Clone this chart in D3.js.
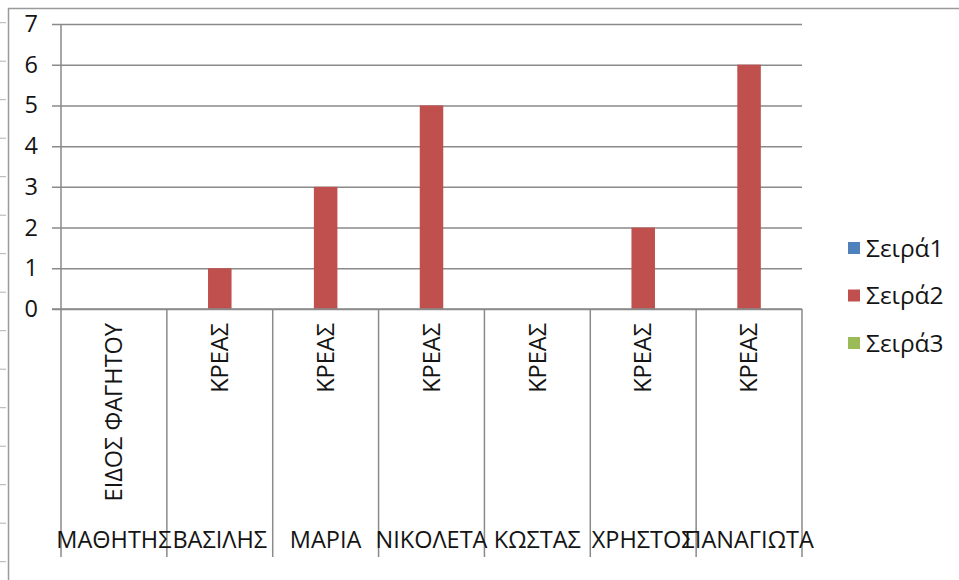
<!DOCTYPE html>
<html>
<head>
<meta charset="utf-8">
<script src="https://cdn.jsdelivr.net/npm/d3@7"></script>
<style>
  body { margin: 0; background: #fff; }
  svg text { font-family: "Open Sans", "Noto Sans", sans-serif; fill: #141414; }
</style>
</head>
<body>
<div id="chart"></div>
<script>
// chart data
const students = ["ΜΑΘΗΤΗΣ", "ΒΑΣΙΛΗΣ", "ΜΑΡΙΑ", "ΝΙΚΟΛΕΤΑ", "ΚΩΣΤΑΣ", "ΧΡΗΣΤΟΣ", "ΠΑΝΑΓΙΩΤΑ"];
const foods = ["ΕΙΔΟΣ ΦΑΓΗΤΟΥ", "ΚΡΕΑΣ", "ΚΡΕΑΣ", "ΚΡΕΑΣ", "ΚΡΕΑΣ", "ΚΡΕΑΣ", "ΚΡΕΑΣ"];
const seriesNames = ["Σειρά1", "Σειρά2", "Σειρά3"];
const seriesColors = ["#4f81bd", "#c0504d", "#9bbb59"];
const series1 = [null, null, null, null, null, null, null];
const series2 = [null, 1, 3, 5, 0, 2, 6];
const series3 = [null, null, null, null, null, null, null];
const yTicks = [0, 1, 2, 3, 4, 5, 6, 7];

const W = 959, H = 580;
const plot = {left: 61, right: 802, top: 24, bottom: 309, axisBottom: 557};
const fontSize = 23.5;

const svg = d3.select("#chart").append("svg")
    .attr("width", W)
    .attr("height", H);

// outer frame of the screenshot
svg.append("path")
    .attr("d", `M8.5,${H} V8.5 H${W}`)
    .attr("fill", "none")
    .attr("stroke", "#9a9a9a")
    .attr("stroke-width", 1.5);

// little ruler marks on the far left edge
svg.selectAll(".ruler")
    .data(d3.range(15))
    .enter()
    .append("line")
    .attr("x1", 0).attr("x2", 6)
    .attr("y1", d => 22.7 + d * 38.5)
    .attr("y2", d => 22.7 + d * 38.5)
    .attr("stroke", "#b0b0b0");

let x = d3.scaleBand()
    .domain(d3.range(students.length))
    .range([plot.left, plot.right])
    .paddingInner(0)
    .paddingOuter(0);

let xSub = d3.scaleBand()
    .domain(seriesNames)
    .range([0, x.bandwidth()])
    .paddingInner(0)
    .paddingOuter(0.75);

let y = d3.scaleLinear()
    .domain([0, 7])
    .range([plot.bottom, plot.top]);

// gridlines + value labels
let yAxis = svg.append("g")
    .attr("transform", `translate(${plot.right},0)`)
    .call(d3.axisLeft(y)
        .tickValues(yTicks)
        .tickFormat(d3.format("d"))
        .tickSize(plot.right - 52)
        .tickPadding(14));
yAxis.select(".domain").remove();
yAxis.selectAll("line").attr("stroke", "#8a8a8a").attr("stroke-width", 1.5);
yAxis.selectAll("text")
    .attr("font-size", fontSize)
    .style("font-family", "'Open Sans', sans-serif")
    .attr("fill", "#141414");

// category separators
const edges = d3.range(students.length + 1).map(i => i < students.length ? x(i) : x(i - 1) + x.bandwidth());
svg.selectAll(".sep")
    .data(edges)
    .enter()
    .append("line")
    .attr("x1", d => d).attr("x2", d => d)
    .attr("y1", (d, i) => i === 0 ? plot.top : plot.bottom)
    .attr("y2", plot.axisBottom)
    .attr("stroke", "#8a8a8a")
    .attr("stroke-width", 1.5);

// bars
const allSeries = [series1, series2, series3];
allSeries.forEach((vals, s) => {
    svg.selectAll(".bar" + s)
        .data(vals.map((v, i) => ({i, v})).filter(d => d.v))
        .enter()
        .append("rect")
        .attr("x", d => x(d.i) + xSub(seriesNames[s]))
        .attr("width", xSub.bandwidth())
        .attr("y", d => y(d.v))
        .attr("height", d => y(0) - y(d.v))
        .attr("fill", seriesColors[s]);
});

// redraw zero line on top of bars
svg.append("line")
    .attr("x1", 52).attr("x2", plot.right)
    .attr("y1", y(0)).attr("y2", y(0))
    .attr("stroke", "#8a8a8a")
    .attr("stroke-width", 1.5);

// inner category labels (rotated)
svg.selectAll(".food")
    .data(foods)
    .enter()
    .append("text")
    .attr("transform", (d, i) => `translate(${x(i) + x.bandwidth() / 2},323) rotate(-90)`)
    .attr("text-anchor", "end")
    .attr("dy", "0.35em")
    .attr("font-size", fontSize)
    .text(d => d);

// outer category labels
svg.selectAll(".student")
    .data(students)
    .enter()
    .append("text")
    .attr("x", (d, i) => x(i) + x.bandwidth() / 2)
    .attr("y", 540)
    .attr("text-anchor", "middle")
    .attr("dy", "0.35em")
    .attr("font-size", fontSize)
    .text(d => d);

// legend
const legend = svg.selectAll(".legend")
    .data(seriesNames)
    .enter()
    .append("g")
    .attr("transform", (d, i) => `translate(848,${248 + i * 47.5})`);
legend.append("rect")
    .attr("x", 0).attr("y", -6)
    .attr("width", 12).attr("height", 12)
    .attr("fill", (d, i) => seriesColors[i]);
legend.append("text")
    .attr("x", 18)
    .attr("dy", "0.35em")
    .attr("font-size", 24.5)
    .text(d => d);
</script>
</body>
</html>
